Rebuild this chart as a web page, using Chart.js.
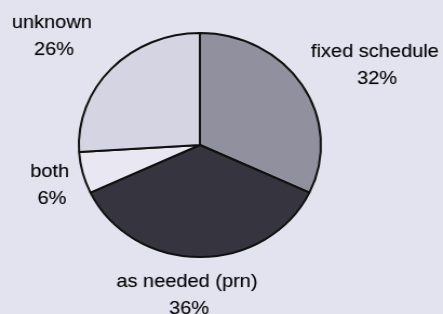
<!DOCTYPE html>
<html>
<head>
<meta charset="utf-8">
<script src="https://cdn.jsdelivr.net/npm/chart.js@4/dist/chart.umd.min.js"></script>
<style>
  html, body { margin: 0; padding: 0; background: #e3e2ef; overflow: hidden; }
  /* el escaneo original está algo estirado en horizontal */
  #grafico { display: block; width: 443px !important; height: 314px !important; }
</style>
</head>
<body>
<canvas id="grafico" width="410" height="314"></canvas>
<script>
// Datos del gráfico
const categorias = ['fixed schedule', 'as needed (prn)', 'both', 'unknown'];
const porcentajes = [32, 36, 6, 26];
const colores = ['#91909e', '#36353f', '#e9e8f2', '#d5d4e2'];

// Posición de las etiquetas (centro x, línea base del nombre)
const posEtiquetas = [
    { x: 347, y: 57 },
    { x: 173, y: 287 },
    { x: 46, y: 177 },
    { x: 48, y: 28 }
];

// Plugin para dibujar nombre y porcentaje fuera de la torta
const etiquetasPlugin = {
    id: 'etiquetas',
    afterDraw(chart) {
        const ctx = chart.ctx;
        ctx.save();
        ctx.fillStyle = '#050505';
        ctx.strokeStyle = 'rgba(0,0,0,0.35)';
        ctx.lineWidth = 0.4;
        ctx.font = '18.5px "Liberation Sans", Arial, sans-serif';
        ctx.textAlign = 'center';
        ctx.textBaseline = 'alphabetic';
        categorias.forEach((cat, i) => {
            const p = posEtiquetas[i];
            const pct = porcentajes[i] + '%';
            ctx.fillText(cat, p.x, p.y);
            ctx.strokeText(cat, p.x, p.y);
            ctx.fillText(pct, p.x + 2, p.y + 27);
            ctx.strokeText(pct, p.x + 2, p.y + 27);
        });
        ctx.restore();
    }
};

const ctx = document.getElementById('grafico').getContext('2d');
const grafico = new Chart(ctx, {
    type: 'pie',
    data: {
        labels: categorias,
        datasets: [{
            data: porcentajes,
            backgroundColor: colores,
            borderColor: '#111',
            borderWidth: 2
        }]
    },
    options: {
        responsive: false,
        animation: false,
        layout: {
            padding: { top: 32, bottom: 56, left: 72, right: 112 }
        },
        plugins: {
            legend: { display: false },
            tooltip: { enabled: false }
        }
    },
    plugins: [etiquetasPlugin]
});
</script>
</body>
</html>
